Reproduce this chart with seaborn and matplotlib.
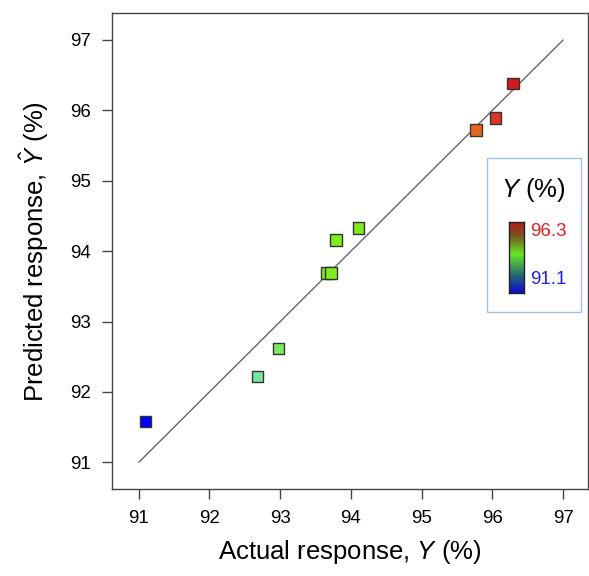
import numpy as np
import pandas as pd
import matplotlib
matplotlib.use("Agg")
import matplotlib.pyplot as plt
from matplotlib.colors import LinearSegmentedColormap, Normalize
from matplotlib.patches import Rectangle
import seaborn as sns

# Data
actual = [91.10, 92.68, 92.98, 93.66, 93.72, 93.79, 94.11, 95.77, 96.04, 96.29]
predicted = [91.58, 92.22, 92.62, 93.69, 93.69, 94.16, 94.33, 95.72, 95.89, 96.38]
ticks = [91, 92, 93, 94, 95, 96, 97]
cbar_min, cbar_max = 91.1, 96.3

sns.set_style("white")
plt.rcParams["font.family"] = ["Liberation Sans", "DejaVu Sans"]
plt.rcParams["mathtext.fontset"] = "custom"
plt.rcParams["mathtext.it"] = "Liberation Sans:italic"
plt.rcParams["mathtext.rm"] = "Liberation Sans"
plt.rcParams["text.color"] = "black"
plt.rcParams["axes.labelcolor"] = "black"
plt.rcParams["xtick.color"] = "black"
plt.rcParams["ytick.color"] = "black"

point_cmap = LinearSegmentedColormap.from_list(
    "pts",
    [(0.0, (0.0, 0.0, 1.0)),
     (0.30, (0.45, 0.90, 0.65)),
     (0.37, (0.50, 0.92, 0.35)),
     (0.50, (0.50, 0.93, 0.12)),
     (0.58, (0.50, 0.92, 0.10)),
     (0.90, (0.90, 0.40, 0.12)),
     (0.95, (0.86, 0.22, 0.15)),
     (1.0, (0.82, 0.10, 0.10))])
bar_cmap = LinearSegmentedColormap.from_list(
    "bar",
    [(0.0, (0.05, 0.05, 0.80)),
     (0.25, (0.15, 0.40, 0.45)),
     (0.55, (0.40, 0.90, 0.15)),
     (0.80, (0.45, 0.35, 0.12)),
     (1.0, (0.72, 0.10, 0.10))])

df = pd.DataFrame({"actual": actual, "predicted": predicted})
norm = Normalize(cbar_min, cbar_max)

fig = plt.figure(figsize=(5.89, 5.76), dpi=100)
ax = fig.add_axes([0.190, 0.151, 0.808, 0.826])

ax.plot([91, 97], [91, 97], color="#666666", lw=1.0, zorder=1)
sns.scatterplot(data=df, x="actual", y="predicted", hue="actual",
                palette=point_cmap, hue_norm=norm, marker="s", s=66,
                edgecolor="#333333", linewidth=1.0, legend=False, ax=ax, zorder=3)

ax.set_xlim(90.62, 97.35)
ax.set_ylim(90.62, 97.38)
ax.set_xticks(ticks)
ax.set_yticks(ticks)
ax.tick_params(axis="both", direction="out", length=7, width=1, color="#444444",
               labelcolor="black", labelsize=13.5, pad=8, bottom=True, left=True)
for sp in ax.spines.values():
    sp.set_color("#444444")
    sp.set_linewidth(1.0)

ax.set_xlabel(r"Actual response, $Y$ (%)", fontsize=18.5, labelpad=8)
ax.set_ylabel(r"Predicted response, $\hat{Y}$ (%)", fontsize=18.5, labelpad=14)

# colour legend box
W, H = 589, 576
fig.patches.append(Rectangle((487 / W, 1 - 312 / H), 94 / W, 154 / H,
                             transform=fig.transFigure, fill=True,
                             facecolor="white", edgecolor="#9cc3e6", lw=1.0,
                             zorder=5))
fig.text(533 / W, 1 - 190 / H, r"$Y$ (%)", fontsize=18.5, ha="center", va="center",
         zorder=6)
cax = fig.add_axes([509 / W, 1 - 293 / H, 15 / W, 71 / H], zorder=6)
grad = np.linspace(0, 1, 256).reshape(-1, 1)
cax.imshow(grad, aspect="auto", cmap=bar_cmap, origin="lower")
cax.set_xticks([])
cax.set_yticks([])
for sp in cax.spines.values():
    sp.set_color("#222222")
    sp.set_linewidth(1.0)
fig.text(530 / W, 1 - 232 / H, f"{cbar_max}", color="#e0201e", fontsize=13.5,
         ha="left", va="center", zorder=6)
fig.text(530 / W, 1 - 279 / H, f"{cbar_min}", color="#2020e8", fontsize=13.5,
         ha="left", va="center", zorder=6)

fig.savefig("out.png", dpi=100)
